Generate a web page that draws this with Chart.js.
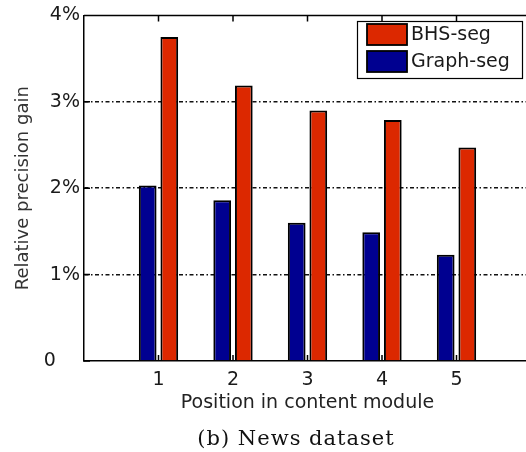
<!DOCTYPE html>
<html>
<head>
<meta charset="utf-8">
<script src="https://cdn.jsdelivr.net/npm/chart.js@4.4.1/dist/chart.umd.min.js"></script>
<style>
  html, body { margin: 0; padding: 0; background: #fff; overflow: hidden; }
  #wrap { position: relative; width: 526px; height: 452px; overflow: hidden; }
  canvas { position: absolute; left: 0; top: 0; }
  #caption { position: absolute; left: 146px; width: 300px; top: 426px; line-height: 24px;
    text-align: center; font-family: "DejaVu Serif", serif; font-size: 21px; letter-spacing: 1px; color: #111; }
</style>
</head>
<body>
<div id="wrap">
  <canvas id="chart" width="540" height="452"></canvas>
  <div id="caption">(b) News dataset</div>
</div>
<script>
const positions = ['1', '2', '3', '4', '5'];
const bhsSeg = [3.75, 3.19, 2.90, 2.79, 2.47];
const graphSeg = [2.03, 1.86, 1.60, 1.49, 1.23];
const yTicks = [0, 1, 2, 3, 4];
const yTickLabels = ['0', '1%', '2%', '3%', '4%'];

const sans = '"DejaVu Sans", sans-serif';

// x axis runs 0..6, the positions sit on 1..5
const labels = [''].concat(positions, ['']);
const pad = arr => [null].concat(arr, [null]);

// top border and the little inward tick marks
const frame = {
  id: 'frame',
  afterDatasetsDraw(chart) {
    const { ctx, chartArea: a, scales: { x, y } } = chart;
    ctx.save();
    ctx.strokeStyle = '#000';
    ctx.lineWidth = 1.5;
    ctx.beginPath();
    ctx.moveTo(a.left, a.top);
    ctx.lineTo(a.right, a.top);
    x.ticks.forEach((t, i) => {
      if (!t.label) return;
      const px = x.getPixelForTick(i);
      ctx.moveTo(px, a.top); ctx.lineTo(px, a.top + 6);
      ctx.moveTo(px, a.bottom); ctx.lineTo(px, a.bottom - 6);
    });
    y.ticks.forEach(t => {
      const py = y.getPixelForValue(t.value);
      ctx.moveTo(a.left, py); ctx.lineTo(a.left + 6, py);
    });
    ctx.stroke();
    ctx.restore();
  }
};

// boxed legend in the top right corner
const boxLegend = {
  id: 'boxLegend',
  afterDraw(chart) {
    const { ctx } = chart;
    const items = chart.data.datasets.slice().reverse();
    ctx.save();
    ctx.fillStyle = '#fff';
    ctx.fillRect(357, 21, 165, 57);
    ctx.strokeStyle = '#000';
    ctx.lineWidth = 1.2;
    ctx.strokeRect(357.5, 21.5, 165, 57);
    ctx.font = '19px ' + sans;
    ctx.textBaseline = 'middle';
    items.forEach((ds, i) => {
      const top = 24 + i * 27;
      ctx.fillStyle = ds.backgroundColor;
      ctx.fillRect(367, top, 40, 21);
      ctx.lineWidth = 1.8;
      ctx.strokeRect(367, top, 40, 21);
      ctx.fillStyle = '#1a1a1a';
      ctx.fillText(ds.label, 411, top + 11);
    });
    ctx.restore();
  }
};

new Chart(document.getElementById('chart'), {
  type: 'bar',
  data: {
    labels: labels,
    datasets: [
      {
        label: 'Graph-seg',
        data: pad(graphSeg),
        backgroundColor: '#000090',
        borderColor: '#000',
        borderWidth: 2,
        barPercentage: 0.82,
        categoryPercentage: 0.58
      },
      {
        label: 'BHS-seg',
        data: pad(bhsSeg),
        backgroundColor: '#dc2800',
        borderColor: '#000',
        borderWidth: 2,
        barPercentage: 0.82,
        categoryPercentage: 0.58
      }
    ]
  },
  options: {
    responsive: false,
    animation: false,
    devicePixelRatio: 1,
    layout: { padding: { top: 14, right: 9, bottom: 26, left: 0 } },
    plugins: {
      legend: { display: false },
      tooltip: { enabled: false }
    },
    scales: {
      x: {
        offset: false,
        grid: { display: false, drawTicks: false },
        border: { color: '#000', width: 1.5 },
        ticks: { padding: 8, color: '#1a1a1a', autoSkip: false, maxRotation: 0, font: { family: sans, size: 19 } },
        title: {
          display: true,
          text: 'Position in content module',
          color: '#222',
          font: { family: sans, size: 19 },
          padding: { top: 0, bottom: 12 }
        },
        afterFit: s => { s.height = 65; }
      },
      y: {
        min: 0,
        max: 4,
        afterBuildTicks: s => { s.ticks = yTicks.map(v => ({ value: v })); },
        grid: {
          drawTicks: false,
          lineWidth: 1.5,
          color: c => (c.tick && c.tick.value > 0 && c.tick.value < 4) ? '#111' : 'rgba(0,0,0,0)'
        },
        border: { color: '#000', width: 1.5, dash: [4, 2.5, 1.5, 2.5] },
        ticks: {
          padding: 4,
          color: '#1a1a1a',
          font: { family: sans, size: 19 },
          callback: v => {
            const lbl = yTickLabels[yTicks.indexOf(v)];
            return v === 0 ? lbl + '\u2007\u2007' : lbl;
          }
        },
        title: {
          display: true,
          text: 'Relative precision gain',
          color: '#333',
          font: { family: sans, size: 18 },
          padding: { top: 13, bottom: 0 }
        },
        afterFit: s => { s.width = 84; }
      }
    }
  },
  plugins: [frame, boxLegend]
});
</script>
</body>
</html>
